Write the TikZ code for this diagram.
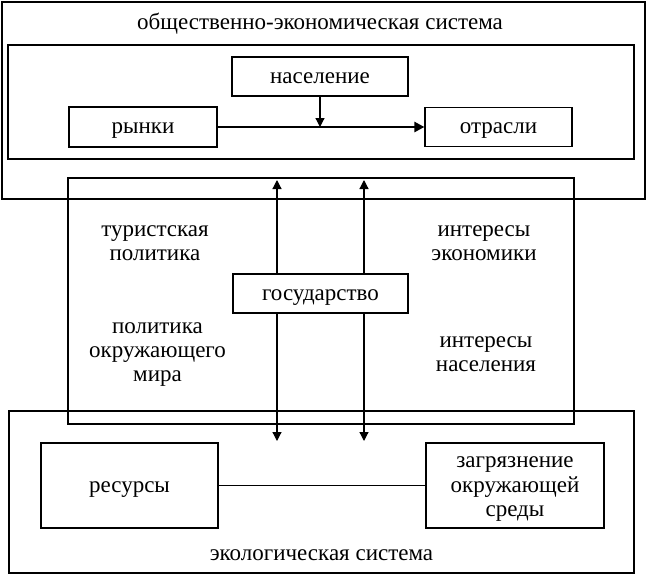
\documentclass[tikz,border=0pt]{standalone}
\usepackage{fontspec}
\setmainfont{Liberation Serif}
\usetikzlibrary{arrows.meta}
\begin{document}
\begin{tikzpicture}[x=1pt,y=-1pt,
  every node/.append style={font=\fontsize{23}{24}\selectfont},
  thinbox/.style={draw,line width=1.2pt,inner sep=0pt,anchor=center},
  thickbox/.style={draw,line width=2.8pt,inner sep=0pt,anchor=center},
  onel/.style={text height=13.5pt,text depth=0pt},
  lbl/.style={align=center,inner sep=0pt},
  arr/.style={line width=1.2pt,-{Triangle[length=9pt,width=9pt]}}]
\useasboundingbox (0,0) rectangle (651,582);
% frames
\node[thinbox,minimum width=643pt,minimum height=197pt] (econ) at (323.5,100.5) {};
\node[thickbox,minimum width=626pt,minimum height=114pt] (econin) at (321,102) {};
\node[thinbox,minimum width=506pt,minimum height=246pt] (mid) at (321,301) {};
\node[thickbox,minimum width=625pt,minimum height=162pt] (eco) at (321.5,492) {};
% titles
\node[onel,inner sep=0pt] (econt) at (320,23) {общественно-экономическая система};
\node[onel,inner sep=0pt] (ecot) at (321.5,554) {экологическая система};
% top boxes
\node[thinbox,onel,minimum width=176pt,minimum height=39pt] (nas) at (320,76.5) {население};
\node[thinbox,onel,minimum width=148pt,minimum height=40pt] (ryn) at (143,127) {рынки};
\node[thinbox,onel,minimum width=147pt,minimum height=39pt] (otr) at (498.5,127) {отрасли};
% state
\node[thinbox,onel,line width=2pt,minimum width=175pt,minimum height=39pt,fill=white] (gos) at (320.5,293.5) {государство};
% bottom boxes
\node[thinbox,onel,minimum width=177pt,minimum height=85pt] (res) at (129.5,485.5) {ресурсы};
\node[thinbox,minimum width=178pt,minimum height=85pt] (zag) at (515,485.5) {};
\node[lbl,font=\fontsize{23}{24.5}\selectfont] (zagt) at (515,489.5) {загрязнение\\окружающей\\среды};
% middle labels
\node[lbl] (tur) at (155,243.5) {туристская\\политика};
\node[lbl] (ieko) at (484,243.5) {интересы\\экономики};
\node[lbl] (pol) at (157.5,355) {политика\\окружающего\\мира};
\node[lbl] (inas) at (486,354) {интересы\\населения};
% connectors
\draw[line width=2.4pt,-{Triangle[length=10pt,width=10pt]}] (ryn.east) -- (otr.west);
\draw[arr] (nas.south) -- (nas.south |- ryn.east);
\coordinate (u1) at (277,180);
\coordinate (u2) at (364,180);
\coordinate (d1) at (277,441);
\coordinate (d2) at (364,441);
\draw[arr] (gos.north -| u1) -- (u1);
\draw[arr] (gos.north -| u2) -- (u2);
\draw[arr] (gos.south -| d1) -- (d1);
\draw[arr] (gos.south -| d2) -- (d2);
\draw[line width=1.4pt] (res.east) -- (zag.west);
\end{tikzpicture}
\end{document}
